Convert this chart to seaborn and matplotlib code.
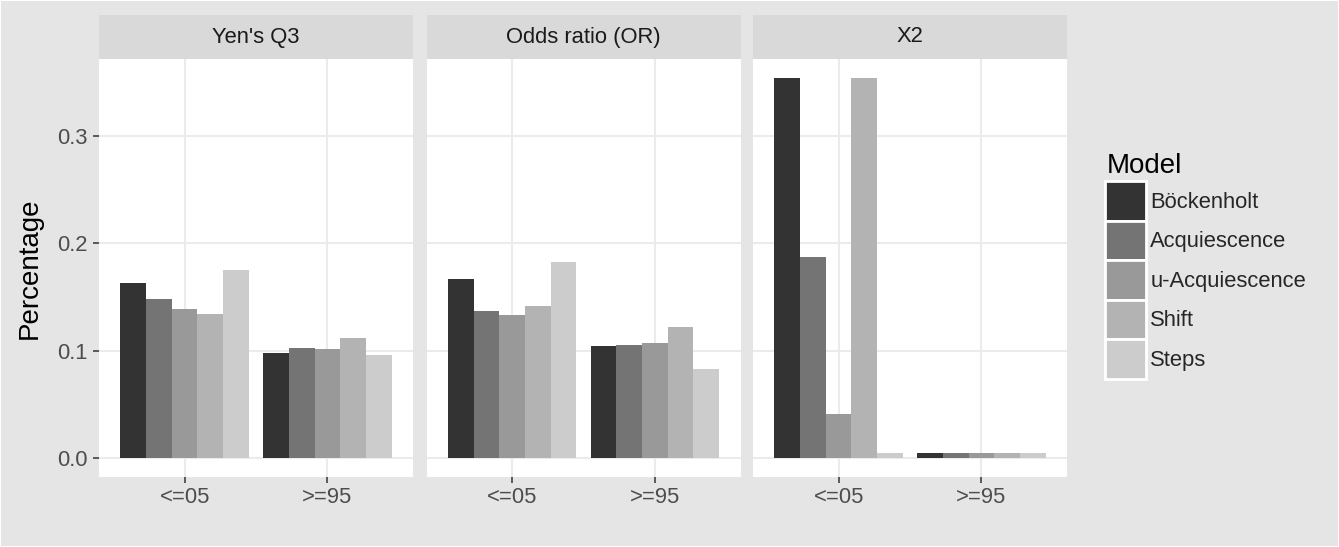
import pandas as pd
import seaborn as sns
import matplotlib.pyplot as plt
from matplotlib.patches import Patch, Rectangle

# values
statistics = ["Yen's Q3", "Odds ratio (OR)", "X2"]
ranges = ["<=05", ">=95"]
models = ["Böckenholt", "Acquiescence", "u-Acquiescence", "Shift", "Steps"]
model_colors = ["#333333", "#747474", "#999999", "#B3B3B3", "#CCCCCC"]

# one list per statistic and range, in model order
q3_low = [0.163, 0.148, 0.139, 0.134, 0.175]
q3_high = [0.098, 0.102, 0.101, 0.112, 0.096]
or_low = [0.167, 0.137, 0.133, 0.141, 0.182]
or_high = [0.104, 0.105, 0.107, 0.122, 0.083]
x2_low = [0.354, 0.187, 0.041, 0.354, 0.005]
x2_high = [0.005, 0.005, 0.005, 0.005, 0.005]

values = {
    "Yen's Q3": [q3_low, q3_high],
    "Odds ratio (OR)": [or_low, or_high],
    "X2": [x2_low, x2_high],
}

rows = []
for stat in statistics:
    for r, vals in zip(ranges, values[stat]):
        for m, v in zip(models, vals):
            rows.append({"Statistic": stat, "Range": r, "Model": m, "Percentage": v})
df = pd.DataFrame(rows)

sns.set_style("white")
plt.rcParams["font.family"] = ["Liberation Sans", "DejaVu Sans"]

W, H = 1339, 547
fig = plt.figure(figsize=(W / 100, H / 100), dpi=100)
fig.patch.set_facecolor("#E5E5E5")
fig.patches.append(Rectangle((0, 0), 1, 1, transform=fig.transFigure,
                             facecolor="none", edgecolor="white", linewidth=1.5))

def px_rect(left, top, width, height):
    return [left / W, 1 - (top + height) / H, width / W, height / H]

panel_lefts = [99, 426.5, 753]
panel_w = 314
panel_top, panel_h = 59, 418
strip_top, strip_h = 15, 44

palette = dict(zip(models, model_colors))
txt_col = "#4D4D4D"
small = 15.8
big = 20

for i, stat in enumerate(statistics):
    ax = fig.add_axes(px_rect(panel_lefts[i], panel_top, panel_w, panel_h))
    ax.set_facecolor("white")
    sub = df[df["Statistic"] == stat]
    sns.barplot(data=sub, x="Range", y="Percentage", hue="Model",
                hue_order=models, order=ranges, palette=palette,
                width=0.9, saturation=1, linewidth=0, legend=False, ax=ax,
                errorbar=None, zorder=3)
    ax.set_xlim(-0.6, 1.6)
    ax.set_ylim(-0.0177, 0.3713)
    ax.set_yticks([0.0, 0.1, 0.2, 0.3])
    ax.grid(True, color="#EBEBEB", linewidth=1.5, zorder=0)
    ax.set_axisbelow(True)
    for s in ax.spines.values():
        s.set_visible(False)
    ax.set_xlabel("")
    ax.set_ylabel("")
    ax.tick_params(axis="x", length=4.5, width=1.1, color="#333333",
                   labelsize=small, labelcolor=txt_col, pad=2.5, bottom=True)
    if i == 0:
        ax.set_yticklabels(["0.0", "0.1", "0.2", "0.3"])
        ax.tick_params(axis="y", length=4.5, width=1.1, color="#333333",
                       labelsize=small, labelcolor=txt_col, pad=3.5, left=True)
    else:
        ax.tick_params(axis="y", left=False, labelleft=False)

    sax = fig.add_axes(px_rect(panel_lefts[i], strip_top, panel_w, strip_h))
    sax.set_facecolor("#D9D9D9")
    sax.set_xticks([])
    sax.set_yticks([])
    for s in sax.spines.values():
        s.set_visible(False)
    sax.text(0.5, 0.5, stat, ha="center", va="center", fontsize=small,
             color="#1A1A1A", transform=sax.transAxes)

fig.text(30 / W, 1 - 268 / H, "Percentage", rotation=90, ha="center",
         va="center", fontsize=big, color="black")

fig.text(1107 / W, 1 - 173 / H, "Model", ha="left", va="baseline",
         fontsize=big, color="black")
handles = [Patch(facecolor=c, edgecolor="white", linewidth=2) for c in model_colors]
leg = fig.legend(handles, models, loc="upper left",
                 bbox_to_anchor=(1105 / W, 1 - 181 / H), frameon=False,
                 fontsize=small, handlelength=1.88,
                 handleheight=2.4, labelspacing=0, handletextpad=0.18,
                 borderpad=0, borderaxespad=0)

fig.savefig("out.png", dpi=100, facecolor=fig.get_facecolor())
